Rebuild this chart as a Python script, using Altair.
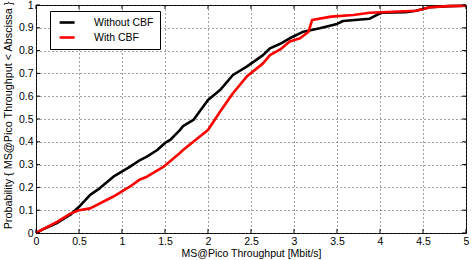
import altair as alt
import pandas as pd

series_names = ["Without CBF", "With CBF"]
series_colors = ["#000000", "#ff0000"]

black_x = [0, 0.1, 0.25, 0.4, 0.5, 0.63, 0.74, 0.9, 1.09, 1.21, 1.29, 1.41, 1.5, 1.56, 1.67, 1.71,
           1.83, 2.0, 2.14, 2.29, 2.45, 2.64, 2.72, 2.84, 2.95, 3.11, 3.3, 3.5, 3.57, 3.88, 3.96,
           4.02, 4.3, 4.42, 4.58, 4.8, 5.0]
black_y = [0, 0.02, 0.045, 0.08, 0.115, 0.167, 0.196, 0.247, 0.29, 0.32, 0.335, 0.364, 0.395, 0.408,
           0.45, 0.469, 0.496, 0.583, 0.627, 0.693, 0.73, 0.78, 0.81, 0.83, 0.854, 0.883, 0.898,
           0.917, 0.93, 0.94, 0.956, 0.966, 0.968, 0.975, 0.99, 0.995, 0.997]

red_x = [0, 0.1, 0.25, 0.4, 0.5, 0.63, 0.9, 1.09, 1.21, 1.29, 1.48, 1.67, 1.71, 2.0, 2.14, 2.29,
         2.45, 2.64, 2.72, 2.84, 2.95, 3.07, 3.17, 3.21, 3.43, 3.69, 3.88, 4.42, 4.58, 4.8, 5.0]
red_y = [0, 0.02, 0.05, 0.085, 0.1, 0.108, 0.16, 0.203, 0.235, 0.247, 0.29, 0.35, 0.364, 0.452,
         0.532, 0.613, 0.686, 0.744, 0.78, 0.805, 0.84, 0.854, 0.883, 0.934, 0.949, 0.956, 0.966,
         0.975, 0.99, 0.995, 0.997]

x_ticks = [0, 0.5, 1, 1.5, 2, 2.5, 3, 3.5, 4, 4.5, 5]
y_ticks = [0, 0.1, 0.2, 0.3, 0.4, 0.5, 0.6, 0.7, 0.8, 0.9, 1]

x_title = "MS@Pico Throughput [Mbit/s]"
y_title = "Probability { MS@Pico Throughput < Abscissa }"

FONT = "Liberation Sans"
FS = 10.5
W, H = 430, 228

df = pd.concat([
    pd.DataFrame({"x": black_x, "y": black_y, "series": series_names[0]}),
    pd.DataFrame({"x": red_x, "y": red_y, "series": series_names[1]}),
])

x_scale = alt.Scale(domain=[0, 5], nice=False)
y_scale = alt.Scale(domain=[0, 1], nice=False)
color_scale = alt.Scale(domain=series_names, range=series_colors)

x_axis = alt.Axis(values=x_ticks, format="~g", grid=True, gridDash=[1, 3], gridColor="#444",
                  ticks=False, domain=False, labelPadding=3, labelFont=FONT, labelFontSize=FS,
                  labelColor="black", title=x_title, titleFont=FONT, titleFontSize=FS,
                  titleFontWeight="normal", titleColor="black", titleX=W / 2, titleY=20,
                  titleBaseline="middle", titleAlign="center", labelFlush=False)
y_axis = alt.Axis(values=y_ticks, format="~g", grid=True, gridDash=[1, 3], gridColor="#444",
                  ticks=False, domain=False, labelPadding=3, labelFont=FONT, labelFontSize=FS,
                  labelColor="black", title=y_title, titleFont=FONT, titleFontSize=10.8,
                  titleFontWeight="normal", titleColor="black", titleX=-28, titleY=110,
                  titleAngle=-90, titleBaseline="middle", titleAlign="center", labelFlush=False)

legend = alt.Legend(orient="none", legendX=14, legendY=6, title=None, strokeColor="black",
                    fillColor="white", padding=6, symbolType="M-0.5,0H3.5", symbolStrokeWidth=2.6,
                    symbolSize=56, labelFont=FONT, labelFontSize=FS, labelColor="black",
                    labelOffset=27, rowPadding=4)

def line_layer(name):
    return alt.Chart(df).transform_filter(alt.datum.series == name).mark_line(
        strokeWidth=2.6, strokeJoin="round", strokeCap="butt").encode(
        x=alt.X("x:Q", scale=x_scale, axis=x_axis),
        y=alt.Y("y:Q", scale=y_scale, axis=y_axis),
        color=alt.Color("series:N", scale=color_scale, legend=legend),
    )

xt = pd.DataFrame({"t": x_ticks})
yt = pd.DataFrame({"t": y_ticks})
tick_len = 4
xb = alt.Chart(xt).mark_rule(color="black", strokeWidth=1).encode(
    x=alt.X("t:Q", scale=x_scale, axis=x_axis), y=alt.value(H), y2=alt.value(H - tick_len))
xtop = alt.Chart(xt).mark_rule(color="black", strokeWidth=1).encode(
    x=alt.X("t:Q", scale=x_scale, axis=x_axis), y=alt.value(0), y2=alt.value(tick_len))
yl = alt.Chart(yt).mark_rule(color="black", strokeWidth=1).encode(
    y=alt.Y("t:Q", scale=y_scale, axis=y_axis), x=alt.value(0), x2=alt.value(tick_len))
yr = alt.Chart(yt).mark_rule(color="black", strokeWidth=1).encode(
    y=alt.Y("t:Q", scale=y_scale, axis=y_axis), x=alt.value(W), x2=alt.value(W - tick_len))

chart = alt.layer(line_layer(series_names[0]), line_layer(series_names[1]), xb, xtop, yl, yr).properties(
    width=W, height=H,
    autosize=alt.AutoSizeParams(type="none"),
    padding={"left": 36, "top": 5, "right": 8, "bottom": 27},
    background="white",
).configure_view(stroke="black", strokeWidth=1)

chart.save("out.html", embed_options={"renderer": "svg", "actions": False})
